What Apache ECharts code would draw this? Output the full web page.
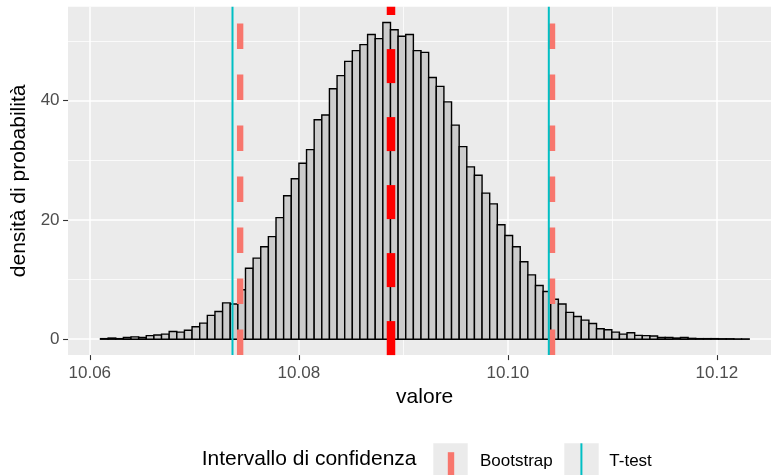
<!DOCTYPE html>
<html>
<head>
<meta charset="utf-8">
<script src="https://cdn.jsdelivr.net/npm/echarts@6/dist/echarts.min.js"></script>
<style>
  html, body { margin: 0; padding: 0; background: #ffffff; }
  #chart { width: 771px; height: 475px; }
</style>
</head>
<body>
<div id="chart"></div>
<script>
// Histogram of the resampled means: 85 equal-width bins, heights are densities
const binStart = 10.061024;
const binWidth = 0.00073019;
const density = [
  0.1, 0.2, 0.1, 0.3, 0.4, 0.3, 0.6, 0.7, 0.85, 1.3,
  1.2, 1.5, 2.1, 2.7, 4.0, 4.65, 6.1, 5.9, 8.3, 11.9,
  13.6, 15.5, 17.2, 20.4, 24.05, 26.9, 29.5, 31.8, 36.8, 37.6,
  42.0, 44.2, 46.6, 48.4, 49.4, 51.1, 50.4, 53.1, 51.9, 50.8,
  51.1, 48.4, 48.1, 43.9, 42.4, 39.8, 35.9, 32.3, 28.9, 27.5,
  24.5, 22.7, 19.2, 17.4, 15.5, 13.0, 10.8, 9.0, 8.0, 6.7,
  5.9, 4.5, 3.8, 3.2, 2.65, 1.75, 1.6, 1.2, 0.85, 1.1,
  0.65, 0.6, 0.55, 0.3, 0.3, 0.2, 0.3, 0.15, 0.1, 0.1,
  0.1, 0.08, 0.08, 0.05, 0.05
];

// Confidence interval bounds and the point estimate
const ciBootstrap = [10.074386, 10.104226];
const ciTtest = [10.073655, 10.10392];
const meanValue = 10.08882;

// Axis ticks and texts
const xTicks = [10.06, 10.08, 10.10, 10.12];
const yTicks = [0, 20, 40];
const xLabel = 'valore';
const yLabel = 'densità di probabilità';
const legendTitle = 'Intervallo di confidenza';
const groupNames = ['Bootstrap', 'T-test'];

// Axis limits (data range with 5% padding)
const xMin = 10.05792, xMax = 10.12617;
const yMin = -2.66, yMax = 55.76;

const FONT = '"Liberation Sans", Arial, Helvetica, sans-serif';
const COL_BOOT = '#F8766D';
const COL_T = '#00BFC4';
const COL_MEAN = '#FF0000';
const PANEL = '#EBEBEB';

const bins = density.map((d, i) => [binStart + i * binWidth, binStart + (i + 1) * binWidth, d]);

function vline(name, x, color, width, dash) {
  return {
    type: 'line',
    name: name,
    data: [[x, yMin], [x, yMax]],
    symbol: 'none',
    silent: true,
    animation: false,
    z: 5,
    lineStyle: { color: color, width: width, type: dash || 'solid', cap: 'butt' }
  };
}

const chart = echarts.init(document.getElementById('chart'), null, { renderer: 'canvas' });

const axisCommon = {
  axisLine: { show: false, onZero: false },
  axisTick: { show: true, length: 5, lineStyle: { color: '#333333', width: 1.1 } },
  splitLine: { show: true, lineStyle: { color: '#FFFFFF', width: 1.5 } },
  minorTick: { show: false, splitNumber: 2 },
  minorSplitLine: { show: true, lineStyle: { color: '#FFFFFF', width: 0.75 } }
};

chart.setOption({
  animation: false,
  backgroundColor: '#FFFFFF',
  grid: {
    left: 68.05, top: 6.7, width: 713.3, height: 348.4,
    show: true, backgroundColor: PANEL, borderWidth: 0,
    outerBoundsMode: 'none', containLabel: false
  },
  xAxis: Object.assign({}, axisCommon, {
    type: 'value',
    min: xMin, max: xMax, splitNumber: 3,
    name: xLabel, nameLocation: 'middle', nameGap: 32,
    nameTextStyle: { fontFamily: FONT, fontSize: 21, color: '#000000' },
    axisTick: Object.assign({}, axisCommon.axisTick, { customValues: xTicks }),
    axisLabel: {
      customValues: xTicks, margin: 10,
      fontFamily: FONT, fontSize: 17, color: '#4D4D4D',
      formatter: v => v.toFixed(2)
    }
  }),
  yAxis: Object.assign({}, axisCommon, {
    type: 'value',
    min: yMin, max: yMax, splitNumber: 3,
    name: yLabel, nameLocation: 'middle', nameGap: 38, nameRotate: 90,
    nameTextStyle: { fontFamily: FONT, fontSize: 21, color: '#000000' },
    axisTick: Object.assign({}, axisCommon.axisTick, { customValues: yTicks }),
    axisLabel: {
      customValues: yTicks, margin: 8.5,
      fontFamily: FONT, fontSize: 17, color: '#4D4D4D'
    }
  }),
  series: [
    {
      type: 'custom',
      name: 'istogramma',
      data: bins,
      encode: { x: [0, 1], y: 2 },
      z: 2,
      silent: true,
      renderItem: function (params, api) {
        const lo = api.coord([api.value(0), api.value(2)]);
        const hi = api.coord([api.value(1), 0]);
        return {
          type: 'rect',
          shape: { x: lo[0], y: lo[1], width: hi[0] - lo[0], height: hi[1] - lo[1] },
          style: { fill: '#CCCCCC', stroke: '#000000', lineWidth: 1.4 }
        };
      }
    },
    vline(groupNames[0], ciBootstrap[0], COL_BOOT, 6.4, [25.5, 25.5]),
    vline(groupNames[0], ciBootstrap[1], COL_BOOT, 6.4, [25.5, 25.5]),
    vline(groupNames[1], ciTtest[0], COL_T, 2, 'solid'),
    vline(groupNames[1], ciTtest[1], COL_T, 2, 'solid'),
    vline('media', meanValue, COL_MEAN, 8.5, [34, 34])
  ],
  graphic: [
    { type: 'text', x: 201.7, y: 459.4,
      style: { text: legendTitle, fontFamily: FONT, fontSize: 21, fill: '#000000', verticalAlign: 'middle' } },
    { type: 'rect', shape: { x: 433.3, y: 443.3, width: 34.4, height: 34.4 }, style: { fill: PANEL } },
    { type: 'line', shape: { x1: 451, y1: 477.7, x2: 451, y2: 443.3 },
      style: { stroke: COL_BOOT, lineWidth: 6.4, lineDash: [25.5, 25.5] } },
    { type: 'text', x: 480, y: 461.4,
      style: { text: groupNames[0], fontFamily: FONT, fontSize: 17, fill: '#000000', verticalAlign: 'middle' } },
    { type: 'rect', shape: { x: 564.3, y: 443.3, width: 34.4, height: 34.4 }, style: { fill: PANEL } },
    { type: 'line', shape: { x1: 581.4, y1: 477.7, x2: 581.4, y2: 443.3 },
      style: { stroke: COL_T, lineWidth: 2 } },
    { type: 'text', x: 609.3, y: 461.4,
      style: { text: groupNames[1], fontFamily: FONT, fontSize: 17, fill: '#000000', verticalAlign: 'middle' } }
  ]
});
</script>
</body>
</html>
